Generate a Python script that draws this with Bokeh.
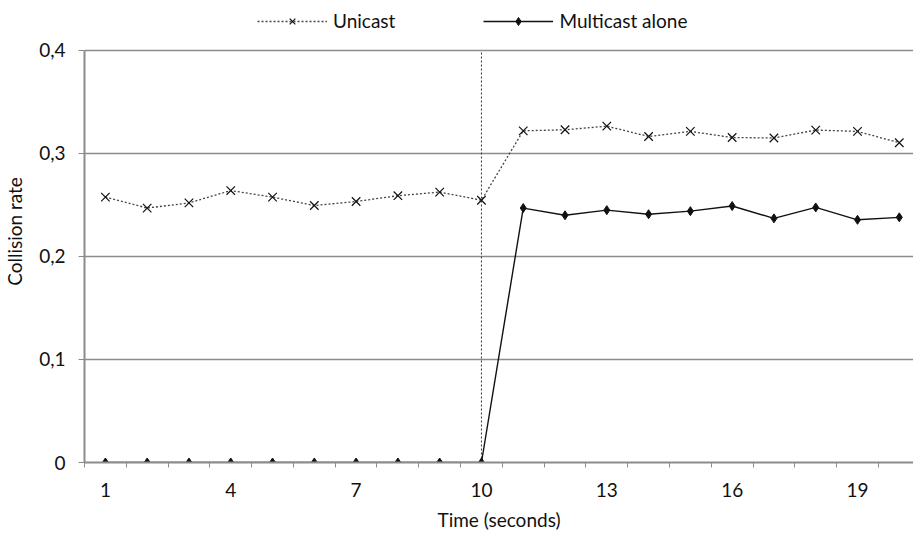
from bokeh.plotting import figure
from bokeh.models import FixedTicker, Legend, LegendItem, Range1d
from bokeh.embed import file_html
from bokeh.resources import INLINE

time_s = list(range(1, 21))
unicast = [0.2576, 0.247, 0.252, 0.264, 0.2576, 0.2495, 0.2534, 0.259, 0.2625, 0.2546,
           0.322, 0.323, 0.3265, 0.3165, 0.3214, 0.3155, 0.315, 0.3227, 0.3214, 0.3104]
multicast = [0, 0, 0, 0, 0, 0, 0, 0, 0, 0,
             0.247, 0.240, 0.245, 0.241, 0.244, 0.249, 0.237, 0.2476, 0.2356, 0.238]
event_time = 10
y_ticks = [0, 0.1, 0.2, 0.3, 0.4]
y_tick_labels = ["0", "0,1", "0,2", "0,3", "0,4"]
x_label_ticks = [1, 4, 7, 10, 13, 16, 19]
x_boundaries = [t - 0.5 for t in time_s] + [20.5]

FONT = "Lato"
GRID = "#8c8c8c"
TXT = "#111111"

p = figure(width=913, height=534, output_backend="svg", toolbar_location=None,
           x_range=Range1d(0.5, 20.34), y_range=Range1d(0, 0.4485),
           min_border_left=84, min_border_right=0, min_border_top=0, min_border_bottom=72)
p.outline_line_color = None
p.background_fill_color = "white"
p.border_fill_color = "white"

# axes
p.xaxis.ticker = FixedTicker(ticks=x_label_ticks, minor_ticks=x_boundaries)
p.xaxis.major_tick_out = 0
p.xaxis.major_tick_in = 0
p.xaxis.minor_tick_out = 5
p.xaxis.minor_tick_in = 0
p.xaxis.minor_tick_line_color = GRID
p.xaxis.axis_line_color = GRID
p.xaxis.axis_line_width = 2
p.xaxis.major_label_standoff = 15
p.xaxis.axis_label = "Time (seconds)"
p.xaxis.axis_label_standoff = 8

p.yaxis.ticker = FixedTicker(ticks=y_ticks)
p.yaxis.bounds = (0, 0.4)
p.yaxis.major_label_overrides = {t: l for t, l in zip(y_ticks, y_tick_labels)}
p.yaxis.major_tick_out = 6
p.yaxis.major_tick_in = 0
p.yaxis.minor_tick_out = 0
p.yaxis.minor_tick_in = 0
p.yaxis.major_tick_line_color = GRID
p.yaxis.axis_line_color = GRID
p.yaxis.axis_line_width = 2
p.yaxis.major_label_standoff = 13
p.yaxis.axis_label = "Collision rate"
p.yaxis.axis_label_standoff = 10

for ax in (p.xaxis, p.yaxis):
    ax.major_label_text_font = FONT
    ax.major_label_text_font_size = "19px"
    ax.major_label_text_color = TXT
    ax.axis_label_text_font = FONT
    ax.axis_label_text_font_size = "19px"
    ax.axis_label_text_font_style = "normal"
    ax.axis_label_text_color = TXT

p.xgrid.grid_line_color = None
p.ygrid.ticker = FixedTicker(ticks=y_ticks[1:])
p.ygrid.grid_line_color = GRID
p.ygrid.grid_line_width = 1.5

# event marker line (from 0 to the top of the value axis)
p.segment(x0=[event_time], y0=[y_ticks[0]], x1=[event_time], y1=[y_ticks[-1]],
          line_color="#333333", line_dash="2 2", line_width=1)

# series
ul = p.line(time_s, unicast, line_color="#444444", line_dash="2 2", line_width=1.3)
us = p.scatter(time_s, unicast, marker="x", size=12, line_color=TXT, line_width=1.2)
ml = p.line(time_s, multicast, line_color=TXT, line_width=1.4)
ms = p.scatter(time_s, multicast, marker="diamond", size=9, fill_color=TXT,
               line_color=TXT)

legend = Legend(items=[LegendItem(label="Unicast", renderers=[ul, us]),
                       LegendItem(label="Multicast alone", renderers=[ml, ms])],
                orientation="horizontal", location=(173, 430),
                glyph_width=70, glyph_height=20, label_standoff=6, spacing=88,
                padding=0, margin=0, border_line_color=None,
                background_fill_alpha=0, label_text_font=FONT,
                label_text_font_size="19px", label_text_color=TXT,
                label_height=20)
p.add_layout(legend, "center")

open("out.html", "w").write(file_html(p, INLINE))
